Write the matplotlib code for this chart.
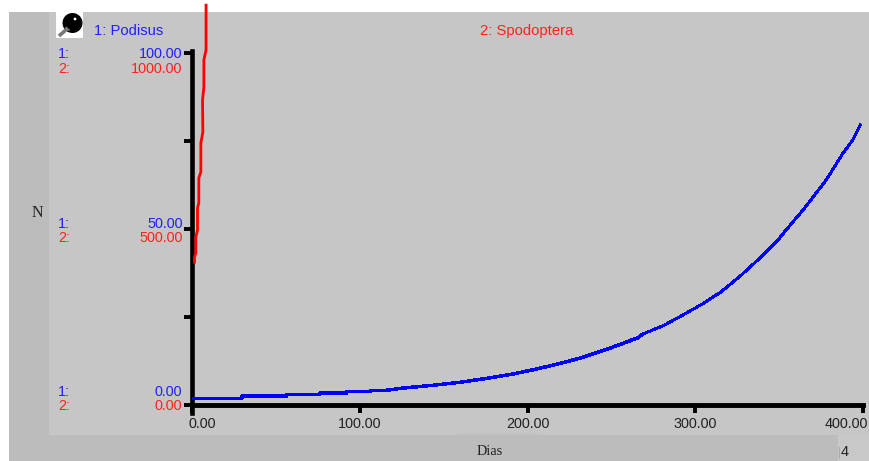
import matplotlib
matplotlib.use("Agg")
import matplotlib.pyplot as plt
import matplotlib.patches as mpatches
from matplotlib.transforms import ScaledTranslation

plt.rcParams['font.family'] = ['Liberation Sans', 'DejaVu Sans']

# series (t in dias)
podisus_t = [1, 29.5, 29.5, 56.3, 56.3, 76, 76, 92.1, 92.1, 106.4, 106.4, 115.8, 124.7, 134.4, 143.4,
             159.5, 173.2, 190.3, 204.2, 217.1, 231, 242.9, 253.8, 265.8, 268.7]
podisus_n = [1.9, 1.9, 2.56, 2.56, 2.98, 2.98, 3.41, 3.41, 3.84, 3.84, 4.12, 4.18, 4.75, 5.2, 5.6,
             6.44, 7.39, 8.72, 10.1, 11.56, 13.27, 15.14, 16.96, 19.12, 20.17]
# upper part of the curve is drawn thinner in the original
podisus_t2 = [268.7, 280.7, 292.6, 305.5, 315.5, 327.4, 339.3, 350.2, 353.2, 365.1, 378, 388, 393.9, 398.3]
podisus_n2 = [20.17, 22.5, 25.57, 29.06, 32.2, 36.9, 42.1, 47.4, 49.2, 55.9, 63.9, 71.5, 75.3, 79.5]
spodoptera_t = [1.3, 1.3, 2.1, 2.1, 3.1, 3.1, 3.9, 3.9, 5.1, 5.1, 6.3, 6.1, 6.9, 6.9, 8.2, 8.2]
spodoptera_n = [406, 420, 432, 477, 497, 560, 574, 645, 662, 744, 776, 866, 903, 980, 1009, 1136]

x_ticks = [0, 100, 200, 300, 400]
x_labels = ['0.00', '100.00', '200.00', '300.00', '400.00']
y_ticks = [0, 25, 50, 75, 100]
names = ['1: Podisus', '2: Spodoptera']
blue_labels = ['100.00', '50.00', '0.00']
red_labels = ['1000.00', '500.00', '0.00']

W, H = 870, 461
BLUE = '#0000ff'
RED = '#ff0000'
BLUE_TXT = '#2020ff'
RED_TXT = '#ff2020'

fig = plt.figure(figsize=(W / 100, H / 100), dpi=100, facecolor='white')

# overlay in pixel coords for the panels and the loose labels
bg = fig.add_axes([0, 0, 1, 1])
bg.set_xlim(0, W)
bg.set_ylim(H, 0)
bg.axis('off')
bg.add_patch(mpatches.Rectangle((9, 12), W - 9, H - 12, fc='#bcbcbc', ec='none'))
bg.add_patch(mpatches.Rectangle((49, 12), W - 49, 423, fc='#c6c6c6', ec='none'))
bg.add_patch(mpatches.Rectangle((838, 435), W - 838, H - 435, fc='#c8c8c8', ec='none'))
bg.add_patch(mpatches.Rectangle((457, 433), 81, 2, fc='#c1c1c1', ec='none'))

# little icon
bg.add_patch(mpatches.Rectangle((56, 12), 27, 26, fc='white', ec='none'))
bg.plot([59, 68], [36, 28], color='#777777', lw=2.6, solid_capstyle='butt')
bg.add_patch(mpatches.Circle((72.5, 23), 10, fc='black', ec='none'))
bg.add_patch(mpatches.Circle((75, 19), 1.4, fc='white', ec='none'))
bg.add_patch(mpatches.Circle((66, 28), 0.8, fc='#aaaaaa', ec='none'))
bg.add_patch(mpatches.Circle((69, 30), 0.8, fc='#aaaaaa', ec='none'))

bg.text(94, 31, names[0], color=BLUE_TXT, fontsize=10.6, va='center', ha='left')
bg.text(480, 31, names[1], color=RED_TXT, fontsize=10.7, va='center', ha='left')

for y, lab in zip([54, 224, 392], blue_labels):
    bg.text(58, y, '1:', color=BLUE_TXT, fontsize=10.4, va='center', ha='left')
    bg.text(182.5, y, lab, color=BLUE_TXT, fontsize=10.4, va='center', ha='right')
for y, lab in zip([69, 238, 406], red_labels):
    bg.text(58, y, '2:', color=RED_TXT, fontsize=10.4, va='center', ha='left')
    bg.text(182.5, y, lab, color=RED_TXT, fontsize=10.4, va='center', ha='right')

bg.text(37, 213, 'N', family='Liberation Serif', color='#222222', fontsize=11.5, va='center', ha='center')
bg.text(489.5, 451, 'Dias', family='Liberation Serif', color='#222222', fontsize=10.3, va='center', ha='center')
bg.text(844.5, 452, '4', color='#222222', fontsize=10.4, va='center', ha='center')
bg.plot([839, 839], [447, 458], color='#aaaaaa', lw=0.7)

# the plot itself
x0, x1, ytop, ybot = 192.3, 863, 53, 405
ax1 = fig.add_axes([x0 / W, 1 - ybot / H, (x1 - x0) / W, (ybot - ytop) / H])
ax1.patch.set_visible(False)
ax1.set_xlim(0, 400)
ax1.set_ylim(0, 100)
ax1.spines['right'].set_visible(False)
ax1.spines['top'].set_visible(False)
ax1.spines['left'].set_linewidth(3.3)
ax1.spines['bottom'].set_linewidth(3.5)
ax1.spines['left'].set_bounds(-2.2, 100.6)
ax1.set_xticks(x_ticks)
ax1.set_xticklabels(x_labels, fontsize=10.4, color='#222222')
ax1.set_yticks(y_ticks)
ax1.set_yticklabels([])
ax1.tick_params(axis='x', length=5.8, width=2.8, pad=3)
ax1.tick_params(axis='y', length=5.8, width=2.8)

# first and last x labels sit off their ticks in the original
xl = ax1.get_xticklabels()
xl[0].set_transform(xl[0].get_transform() + ScaledTranslation(9.5 / 100, 0, fig.dpi_scale_trans))
xl[-1].set_transform(xl[-1].get_transform() + ScaledTranslation(-17 / 100, 0, fig.dpi_scale_trans))

ax1.plot(podisus_t, podisus_n, color=BLUE, lw=1.8, antialiased=False, clip_on=False, zorder=5)
ax1.plot(podisus_t2, podisus_n2, color=BLUE, lw=1.4, antialiased=False, clip_on=False, zorder=5)

ax2 = ax1.twinx()
ax2.patch.set_visible(False)
ax2.set_ylim(0, 1000)
ax2.set_yticks([])
for s in ax2.spines.values():
    s.set_visible(False)
ax2.plot(spodoptera_t, spodoptera_n, color=RED, lw=2.0, clip_on=False, zorder=5)

fig.savefig('out.png', dpi=100)
